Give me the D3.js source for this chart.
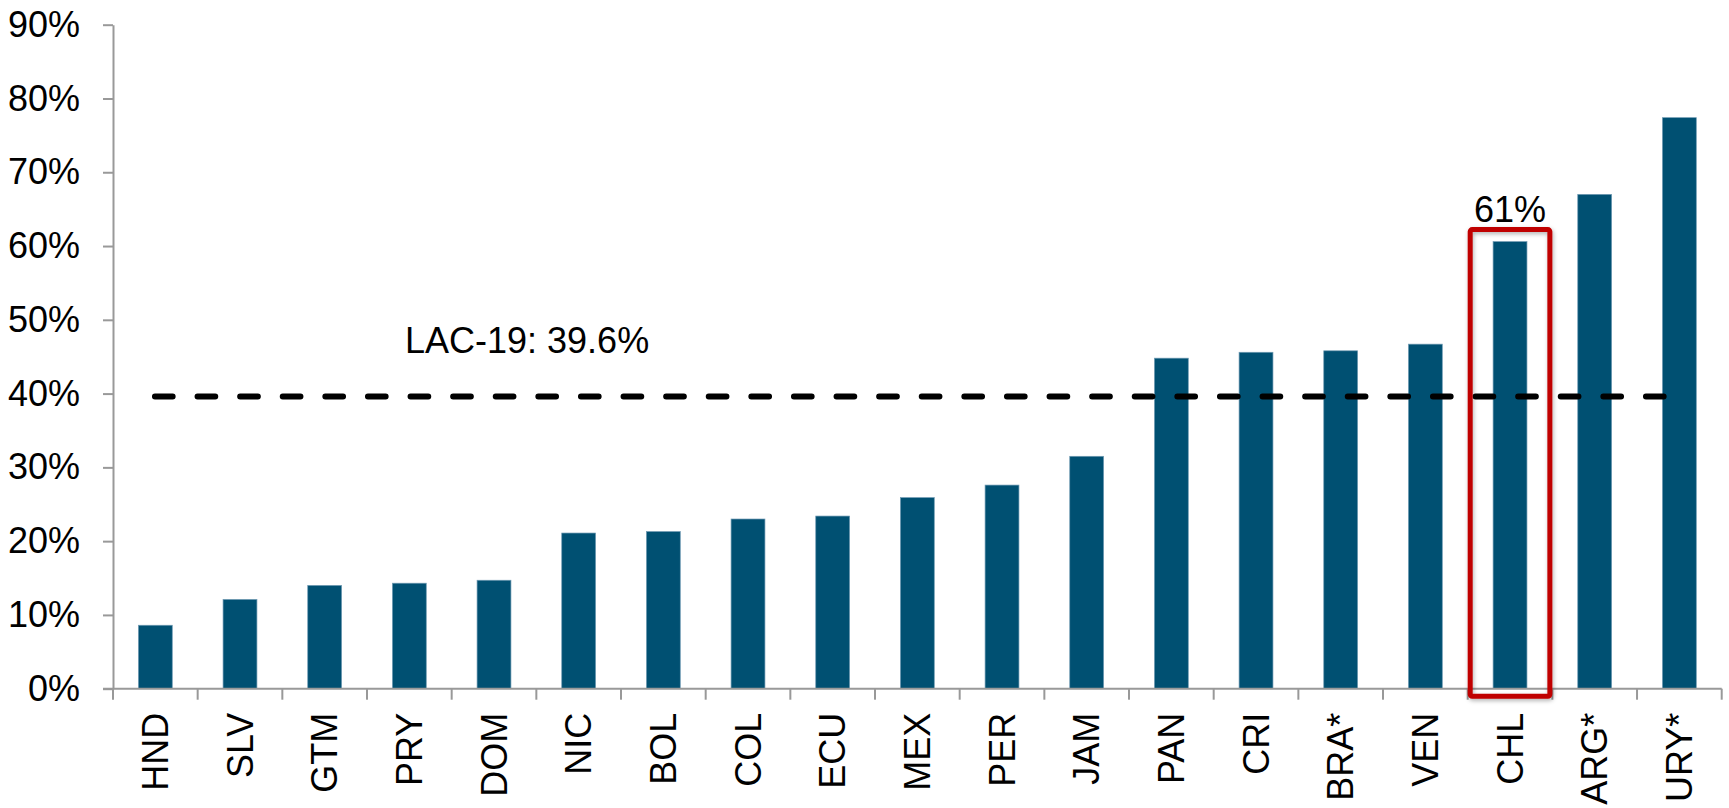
<!DOCTYPE html>
<html>
<head>
<meta charset="utf-8">
<script src="https://cdn.jsdelivr.net/npm/d3@7"></script>
<style>
  body { margin: 0; background: #fff; }
  text { font-family: "Liberation Sans", Arial, sans-serif; fill: #000; }
</style>
</head>
<body>
<script>
var categories = ["HND", "SLV", "GTM", "PRY", "DOM", "NIC", "BOL", "COL", "ECU", "MEX",
	"PER", "JAM", "PAN", "CRI", "BRA*", "VEN", "CHL", "ARG*", "URY*"];
var values = [8.6, 12.1, 14.0, 14.3, 14.7, 21.1, 21.3, 23.0, 23.4, 25.9,
	27.6, 31.5, 44.8, 45.6, 45.8, 46.7, 60.6, 67.0, 77.4];
var yTicks = [0, 10, 20, 30, 40, 50, 60, 70, 80, 90];
var average = 39.6;
var averageLabel = "LAC-19: 39.6%";
var highlight = "CHL";
var highlightLabel = "61%";

var width = 1729,
	height = 808,
	margin = {top: 24.7, right: 7.3, bottom: 119.3, left: 113};

var svg = d3.select("body").append("svg")
	.attr("width", width)
	.attr("height", height);

var defs = svg.append("defs");
var shadow = defs.append("filter")
	.attr("id", "boxShadow")
	.attr("x", "-20%").attr("y", "-10%")
	.attr("width", "140%").attr("height", "120%");
shadow.append("feDropShadow")
	.attr("dx", 1).attr("dy", 2)
	.attr("stdDeviation", 2)
	.attr("flood-color", "#000")
	.attr("flood-opacity", 0.3);

var x = d3.scaleBand()
	.domain(categories)
	.range([margin.left, width - margin.right])
	.paddingInner(0.6)
	.paddingOuter(0.3);

var step = x.step();
// band start (tick boundary) of a category
function bandStart(c) { return margin.left + categories.indexOf(c) * step; }

var y = d3.scaleLinear()
	.domain([0, 90])
	.range([height - margin.bottom, margin.top]);

// bars
svg.append("g")
	.selectAll("rect")
	.data(values)
	.join("rect")
	.attr("x", function(d, i) { return x(categories[i]); })
	.attr("y", function(d) { return y(d); })
	.attr("width", x.bandwidth())
	.attr("height", function(d) { return y(0) - y(d); })
	.attr("fill", "#005072")
	.attr("stroke", "#6f9ab3")
	.attr("stroke-width", 0.7);

// y axis
var yAxis = svg.append("g")
	.attr("transform", "translate(" + margin.left + ",0)")
	.call(d3.axisLeft(y)
		.tickValues(yTicks)
		.tickFormat(function(d) { return d + "%"; })
		.tickSize(10)
		.tickSizeOuter(0)
		.tickPadding(23));
yAxis.selectAll("text")
	.style("font-size", "36px")
	.attr("fill", "#000");
yAxis.selectAll("line, path")
	.attr("stroke", "#999")
	.attr("stroke-width", 2);

// x axis
var xAxis = svg.append("g")
	.attr("transform", "translate(0," + y(0) + ")")
	.call(d3.axisBottom(x).tickSize(0).tickSizeOuter(0));
xAxis.select(".domain")
	.attr("stroke", "#999")
	.attr("stroke-width", 2)
	.attr("d", "M" + (margin.left - 10) + ",0H" + (width - margin.right));
xAxis.selectAll(".tick text")
	.style("font-size", "36px")
	.attr("fill", "#000")
	.attr("transform", "rotate(-90)")
	.attr("x", -24)
	.attr("y", 0)
	.attr("dy", "0.35em")
	.style("text-anchor", "end");

// category boundary ticks
xAxis.append("g")
	.selectAll("line")
	.data(d3.range(categories.length + 1))
	.join("line")
	.attr("x1", function(i) { return margin.left + i * step; })
	.attr("x2", function(i) { return margin.left + i * step; })
	.attr("y1", 0)
	.attr("y2", 11)
	.attr("stroke", "#999")
	.attr("stroke-width", 2);

// average line
var first = categories[0], last = categories[categories.length - 1];
svg.append("line")
	.attr("x1", x(first) + x.bandwidth() * 0.4 + 3)
	.attr("x2", x(last) + 1.5)
	.attr("y1", y(average))
	.attr("y2", y(average))
	.attr("stroke", "#000")
	.attr("stroke-width", 6)
	.attr("stroke-linecap", "round")
	.attr("stroke-dasharray", "17.7 24.9");

svg.append("text")
	.attr("x", 405)
	.attr("y", y(average) - 44)
	.style("font-size", "36px")
	.text(averageLabel);

// highlighted bar
var hv = values[categories.indexOf(highlight)];
svg.append("rect")
	.attr("x", bandStart(highlight) + 2.5)
	.attr("y", y(hv) - 12)
	.attr("width", step - 5)
	.attr("height", y(0) + 7.5 - (y(hv) - 12))
	.attr("rx", 2)
	.attr("fill", "none")
	.attr("stroke", "#c00000")
	.attr("stroke-width", 5)
	.attr("filter", "url(#boxShadow)");

svg.append("text")
	.attr("x", x(highlight) + x.bandwidth() / 2)
	.attr("y", y(hv) - 20)
	.attr("text-anchor", "middle")
	.style("font-size", "36px")
	.text(highlightLabel);
</script>
</body>
</html>
